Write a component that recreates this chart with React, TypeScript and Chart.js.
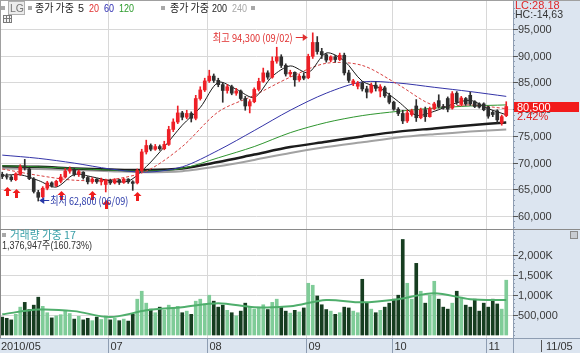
import React, { useEffect, useRef } from "react";
import { Chart, registerables } from "chart.js";

Chart.register(...registerables);

// ---------------- data ----------------
const DATES = [
  "05/27", "05/28", "05/31",
  "06/01", "06/03", "06/04", "06/07", "06/08", "06/09", "06/10", "06/11", "06/14", "06/15", "06/16", "06/17", "06/18", "06/21", "06/22", "06/23", "06/24", "06/25", "06/28", "06/29", "06/30",
  "07/01", "07/02", "07/05", "07/06", "07/07", "07/08", "07/09", "07/12", "07/13", "07/14", "07/15", "07/16", "07/19", "07/20", "07/21", "07/22", "07/23", "07/26", "07/27", "07/28", "07/29", "07/30",
  "08/02", "08/03", "08/04", "08/05", "08/06", "08/09", "08/10", "08/11", "08/12", "08/13", "08/16", "08/17", "08/18", "08/19", "08/20", "08/23", "08/24", "08/25", "08/26", "08/27", "08/30", "08/31",
  "09/01", "09/02", "09/03", "09/06", "09/07", "09/08", "09/09", "09/10", "09/13", "09/14", "09/15", "09/16", "09/17", "09/20", "09/24", "09/27", "09/28", "09/29", "09/30",
  "10/01", "10/04", "10/05", "10/06", "10/07", "10/08", "10/11", "10/12", "10/13", "10/14", "10/15", "10/18", "10/19", "10/20", "10/21", "10/22", "10/25", "10/26", "10/27", "10/28", "10/29",
  "11/01", "11/02", "11/03", "11/04", "11/05",
];

const OPEN = [
  67800, 67400, 67300,
  66800, 67800, 69200, 68800, 66900, 64400, 63600, 65200, 66200, 65700, 66500, 67300, 68400, 68700, 67800, 68200, 67200, 66400, 66900, 66400, 65900,
  66700, 66200, 66800, 66300, 66900, 66400, 66200, 68500, 72000, 73200, 72500, 73000, 72600, 73400, 76200, 77600, 79300, 78500, 79200, 78300, 82000, 83600,
  85300, 86200, 85400, 84600, 83500, 84200, 83000, 83400, 82000, 80600, 81400, 83700, 85200, 86800, 86000, 89000, 89800, 88200, 86600, 86900, 85500, 86200,
  85900, 89900, 92500, 90800, 90200, 89200, 89800, 89300, 90100, 86800, 84800, 84300, 84900, 83800, 83200, 84500, 83400, 84000, 82500,
  81300, 80000, 79200, 77800, 79000, 80600, 78400, 79900, 78600, 80100, 81600, 80500, 82000, 80200, 83000, 80900, 82000, 82600, 81400, 81000, 81000,
  80400, 79400, 79700, 77400, 78800,
];
const HIGH = [
  68200, 67900, 67600,
  68100, 69600, 70600, 69000, 67200, 64800, 65500, 66500, 66400, 66700, 67800, 68900, 69200, 68900, 68600, 68300, 67400, 67200, 67000, 67100, 66900,
  66900, 67000, 66900, 67100, 67000, 66600, 68800, 72500, 74200, 73500, 73400, 73300, 74000, 76800, 78200, 80600, 79600, 79800, 79500, 82600, 84200, 85800,
  87300, 86600, 85800, 85000, 84600, 84500, 83900, 83600, 82400, 81800, 84000, 85800, 87700, 87200, 89800, 91600, 90200, 88500, 87300, 87000, 86600, 86800,
  90300, 94300, 93600, 91400, 90400, 90000, 90100, 90500, 90500, 87300, 85600, 85200, 85100, 84300, 84900, 85100, 84600, 84300, 83000,
  81500, 80300, 79800, 79800, 80000, 81800, 80200, 80400, 80400, 81300, 82700, 80900, 82300, 83300, 83300, 82400, 82200, 83200, 81600, 81200, 81200,
  80600, 79800, 79900, 78900, 81400,
];
const LOW = [
  67000, 66900, 66500,
  66600, 67600, 68600, 66800, 64300, 62800, 63400, 64900, 65400, 65500, 66200, 67100, 68000, 67500, 67400, 66900, 66000, 66100, 66100, 65800, 64500,
  65900, 66000, 65900, 66100, 66100, 64800, 66000, 68300, 71600, 72200, 72300, 72300, 72400, 73200, 75800, 77300, 78000, 78200, 77600, 78000, 81700, 83300,
  85000, 85000, 84200, 81300, 83000, 82700, 82600, 81700, 79800, 79300, 81200, 83400, 85000, 85600, 85800, 88600, 87800, 86200, 86100, 84300, 85200, 85500,
  85700, 89500, 90300, 89500, 88800, 88900, 88800, 89100, 86400, 85000, 84400, 83800, 83400, 82100, 83000, 83400, 82300, 82200, 81000,
  79800, 78800, 77300, 77500, 78700, 77700, 78200, 77700, 78500, 79900, 80200, 80000, 79500, 80000, 80900, 80600, 80700, 80700, 80300, 80200, 79700,
  78300, 78600, 77400, 77000, 78600,
];
const CLOSE = [
  67400, 67300, 66800,
  67900, 69200, 69000, 67000, 64600, 63500, 65200, 66200, 65700, 66500, 67300, 68400, 68800, 67800, 68300, 67200, 66400, 66900, 66400, 66800, 66700,
  66200, 66800, 66300, 66900, 66400, 66100, 68500, 72000, 73200, 72500, 73000, 72600, 73400, 76200, 77600, 79300, 78500, 79200, 78300, 82000, 83600, 85300,
  86200, 85400, 84600, 83500, 84200, 83000, 83400, 82000, 80600, 81400, 83700, 85200, 86800, 86000, 89000, 89800, 88200, 86600, 86900, 85500, 86200, 85800,
  89900, 92500, 90800, 90200, 89200, 89800, 89300, 90100, 86800, 85400, 85300, 84900, 83800, 83200, 84500, 83900, 84200, 82500, 81300,
  80000, 79200, 77800, 79300, 79700, 78400, 79900, 78600, 80100, 81000, 80500, 80200, 80000, 82900, 81300, 82100, 81000, 81000, 80500, 80400, 79900,
  78700, 79000, 78000, 78600, 80500,
];
const VOLUME = [
  450000, 420000, 380000,
  520000, 700000, 820000, 640000, 750000, 950000, 720000, 560000, 430000, 480000, 510000, 620000, 540000, 400000, 470000, 380000, 420000, 360000, 450000, 390000, 480000,
  380000, 420000, 360000, 400000, 350000, 520000, 900000, 1100000, 800000, 650000, 560000, 700000, 620000, 750000, 680000, 720000, 560000, 600000, 520000, 850000, 900000, 780000,
  1000000, 850000, 700000, 750000, 620000, 560000, 480000, 600000, 800000, 720000, 650000, 700000, 760000, 640000, 820000, 900000, 700000, 600000, 550000, 620000, 580000, 680000,
  1300000, 1250000, 980000, 760000, 640000, 600000, 520000, 560000, 700000, 680000, 600000, 560000, 1400000, 800000, 650000, 560000, 620000, 700000, 800000,
  900000, 1000000, 2400000, 1300000, 900000, 1800000, 1100000, 800000, 1000000, 1350000, 900000, 700000, 650000, 800000, 1100000, 950000, 750000, 700000, 900000, 600000, 800000,
  700000, 900000, 780000, 650000, 1376947,
];

const MA5_IDX = [0, 4, 8, 12, 16, 20, 24, 28, 32, 36, 40, 44, 48, 52, 56, 60, 64, 68, 72, 76, 80, 84, 88, 92, 96, 100, 104, 108, 112];
const MA5 = [67600, 67720, 66660, 65420, 67760, 67320, 66600, 66520, 69240, 72940, 77000, 80320, 85020, 83740, 82220, 86140, 88100, 86860, 90520, 89040, 85240, 83920, 81440, 78880, 79600, 80920, 81660, 80100, 78960];
const MA_IDX = [0, 8, 16, 24, 32, 40, 48, 56, 64, 72, 80, 88, 96, 104, 112];
const MA20 = [68800, 67600, 66700, 66800, 68400, 73000, 79500, 82600, 86000, 88600, 88200, 84600, 80700, 80800, 80100];
const MA60 = [71400, 70800, 69900, 68800, 68200, 69200, 72300, 76000, 79800, 83000, 85100, 84900, 84100, 83300, 82400];
const MA120 = [69400, 69200, 68900, 68600, 68400, 68900, 70900, 73000, 75600, 77500, 78800, 79600, 80200, 80600, 80800];
const MA200 = [69300, 69200, 68900, 68700, 68600, 68900, 70100, 71500, 72900, 73900, 74900, 75800, 76400, 77000, 77500];
const MA240 = [68900, 68800, 68600, 68400, 68200, 68400, 69300, 70500, 71800, 72900, 73800, 74700, 75300, 75800, 76200];
const VOL_MA = [520000, 640000, 600000, 450000, 620000, 700000, 800000, 700000, 720000, 880000, 820000, 900000, 1050000, 900000, 880000];

const PRICE_TICKS = [60000, 65000, 70000, 75000, 80000, 85000, 90000, 95000];
const PRICE_TICK_LABELS = ["60,000", "65,000", "70,000", "75,000", "80,000", "85,000", "90,000", "95,000"];
const VOL_TICKS = [500000, 1000000, 1500000, 2000000];
const VOL_TICK_LABELS = ["500,000", "1,000K", "1,500K", "2,000K"];
const MONTH_START = [0, 24, 46, 68, 87, 108];
const MONTH_LABELS = ["2010/05", "07", "08", "09", "10", "11"];
const SIGNAL_IDX = [1, 3, 13, 20, 23, 30];
const HIGH_IDX = 69;
const LOW_IDX = 8;
const HIGH_TEXT = "최고 94,300 (09/02)";
const LOW_TEXT = "최저 62,800 (06/09)";
const LAST_TEXT = "80,500";
const CHANGE_TEXT = "2.42%";
const VOL_TEXT = "1,376,947주(160.73%)";
const LAST_DATE = "11/05";

// ---------------- styling ----------------
const N_SLOTS = DATES.length + 1;
const SLOT_LABELS = [...DATES, ""];
const RIGHT_W = 67;
const PANEL_BG = "#dce5f0";
const PANEL_EDGE = "#8e9db2";
const GRID = "#d8d8d8";
const UP = "#ee2027";
const DOWN = "#2e2e2e";
const NUM_FONT = '11px "Liberation Sans", "Noto Sans CJK KR", sans-serif';
const KR_FONT = '11px "Noto Sans CJK KR", "Liberation Sans", sans-serif';

function sparse(idx: number[], vals: number[]) {
  const a: (number | null)[] = new Array(DATES.length).fill(null);
  idx.forEach((k, j) => (a[k] = vals[j]));
  return a;
}

function hline(ctx: CanvasRenderingContext2D, x1: number, x2: number, y: number) {
  ctx.beginPath();
  ctx.moveTo(x1, y);
  ctx.lineTo(x2, y);
  ctx.stroke();
}
function vline(ctx: CanvasRenderingContext2D, x: number, y1: number, y2: number) {
  ctx.beginPath();
  ctx.moveTo(x, y1);
  ctx.lineTo(x, y2);
  ctx.stroke();
}
function square(ctx: CanvasRenderingContext2D, x: number, y: number) {
  ctx.fillStyle = "#a8a8a8";
  ctx.fillRect(x, y, 4, 4);
}
function boundaryX(chart: any, i: number) {
  const a = chart.chartArea;
  const w = (a.right - a.left) / N_SLOTS;
  return chart.scales.x.getPixelForValue(i) - w / 2;
}

const lineDs = (data: (number | null)[], color: string, width: number, dash: number[] = []) => ({
  type: "line" as const,
  data,
  borderColor: color,
  borderWidth: width,
  borderDash: dash,
  pointRadius: 0,
  spanGaps: true,
  tension: 0.3,
  fill: false,
});

const pricePlugin = {
  id: "pricePanel",
  beforeDraw(chart: any) {
    const { ctx, chartArea: a, scales } = chart;
    const W = chart.width;
    const H = chart.height;
    ctx.save();
    ctx.fillStyle = "#ffffff";
    ctx.fillRect(0, 0, W, H);
    ctx.fillStyle = PANEL_BG;
    ctx.fillRect(a.right, 0, W - a.right, H);
    ctx.strokeStyle = GRID;
    ctx.lineWidth = 1;
    PRICE_TICKS.forEach((v) => {
      const y = Math.round(scales.y.getPixelForValue(v)) + 0.5;
      hline(ctx, 0, a.right, y);
    });
    MONTH_START.slice(1).forEach((i) => {
      const x = Math.round(boundaryX(chart, i)) + 0.5;
      vline(ctx, x, 0, H);
    });
    ctx.restore();
  },
  afterDatasetsDraw(chart: any) {
    const { ctx, scales } = chart;
    const x = scales.x;
    const y = scales.y;
    ctx.save();
    // signal arrows
    ctx.fillStyle = "#f01c1c";
    SIGNAL_IDX.forEach((i) => {
      const cx = Math.round(x.getPixelForValue(i));
      const top = Math.round(y.getPixelForValue(LOW[i])) + 8;
      ctx.beginPath();
      ctx.moveTo(cx + 0.5, top);
      ctx.lineTo(cx + 4.5, top + 4);
      ctx.lineTo(cx + 2, top + 4);
      ctx.lineTo(cx + 2, top + 9);
      ctx.lineTo(cx - 1, top + 9);
      ctx.lineTo(cx - 1, top + 4);
      ctx.lineTo(cx - 3.5, top + 4);
      ctx.closePath();
      ctx.fill();
    });
    // high annotation
    const hx = x.getPixelForValue(HIGH_IDX) - 6;
    const hy = Math.round(y.getPixelForValue(HIGH[HIGH_IDX])) + 4.5;
    ctx.strokeStyle = "#e03030";
    ctx.fillStyle = "#e03030";
    ctx.lineWidth = 1;
    hline(ctx, hx - 11, hx, hy);
    ctx.beginPath();
    ctx.moveTo(hx + 1, hy);
    ctx.lineTo(hx - 4, hy - 3.5);
    ctx.lineTo(hx - 4, hy + 3.5);
    ctx.closePath();
    ctx.fill();
    ctx.font = KR_FONT;
    ctx.textBaseline = "middle";
    ctx.textAlign = "right";
    ctx.fillText(HIGH_TEXT, hx - 14, hy, 80);
    // low annotation
    const lx = x.getPixelForValue(LOW_IDX) + 2;
    const ly = Math.round(y.getPixelForValue(LOW[LOW_IDX])) - 0.5;
    ctx.strokeStyle = "#2838a8";
    ctx.fillStyle = "#2838a8";
    hline(ctx, lx, lx + 9, ly);
    ctx.beginPath();
    ctx.moveTo(lx - 1, ly);
    ctx.lineTo(lx + 4, ly - 3.5);
    ctx.lineTo(lx + 4, ly + 3.5);
    ctx.closePath();
    ctx.fill();
    ctx.textAlign = "left";
    ctx.fillText(LOW_TEXT, lx + 10, ly, 78);
    ctx.restore();
  },
  afterDraw(chart: any) {
    const { ctx, chartArea: a, scales } = chart;
    const H = chart.height;
    const R = a.right;
    ctx.save();
    // axis panel edge + ticks
    ctx.strokeStyle = PANEL_EDGE;
    ctx.lineWidth = 1;
    vline(ctx, R + 0.5, 0, H);
    for (let v = 58000; v <= 99000; v += 1000) {
      const yy = Math.round(scales.y.getPixelForValue(v)) + 0.5;
      hline(ctx, R, R + 2, yy);
    }
    ctx.font = NUM_FONT;
    ctx.textBaseline = "middle";
    ctx.textAlign = "left";
    PRICE_TICKS.forEach((v, k) => {
      const yy = Math.round(scales.y.getPixelForValue(v)) + 0.5;
      ctx.strokeStyle = "#555";
      hline(ctx, R, R + 5, yy);
      ctx.fillStyle = "#3a3a3a";
      ctx.fillText(PRICE_TICK_LABELS[k], R + 5, yy, 40);
    });
    // last price tag
    const ty = Math.round(scales.y.getPixelForValue(CLOSE[CLOSE.length - 1]));
    ctx.fillStyle = "#f21b1b";
    ctx.fillRect(R + 1, ty - 5, 65, 10);
    ctx.fillStyle = "#ffffff";
    ctx.fillText(LAST_TEXT, R + 4, ty + 0.5, 40);
    ctx.fillStyle = "#e02020";
    ctx.fillText(CHANGE_TEXT, R + 4, ty + 10, 40);
    // LC / HC
    ctx.fillStyle = "#e02828";
    ctx.fillText("LC:28.18", R + 2, 6, 46);
    ctx.fillStyle = "#333";
    ctx.fillText("HC:-14,63", R + 2, 15, 48);
    // top / left borders
    ctx.strokeStyle = "#a0a0a0";
    hline(ctx, 0, chart.width, 0.5);
    vline(ctx, 0.5, 0, H);
    // header
    square(ctx, 1, 6);
    ctx.fillStyle = "#ececec";
    ctx.fillRect(8, 1, 17, 14);
    ctx.strokeStyle = "#b0b0b0";
    ctx.strokeRect(8.5, 1.5, 16, 13);
    ctx.fillStyle = "#777";
    ctx.fillText("LG", 10, 8.5, 14);
    square(ctx, 28, 6);
    ctx.font = KR_FONT;
    ctx.fillStyle = "#222";
    ctx.fillText("종가 가중", 35, 8, 39);
    ctx.font = NUM_FONT;
    ctx.fillText("5", 78, 8.5, 6);
    ctx.fillStyle = "#e03030";
    ctx.fillText("20", 89, 8.5, 10);
    ctx.fillStyle = "#2828b0";
    ctx.fillText("60", 104, 8.5, 10);
    ctx.fillStyle = "#2a9a2a";
    ctx.fillText("120", 119, 8.5, 15);
    square(ctx, 161, 6);
    ctx.font = KR_FONT;
    ctx.fillStyle = "#222";
    ctx.fillText("종가 가중", 170, 8, 39);
    ctx.font = NUM_FONT;
    ctx.fillText("200", 212, 8.5, 15);
    ctx.fillStyle = "#a8a8a8";
    ctx.fillText("240", 232, 8.5, 15);
    square(ctx, 251, 6);
    // grid icon
    ctx.strokeStyle = "#7a7a7a";
    ctx.fillStyle = "#f4f4f4";
    ctx.fillRect(3, 15, 9, 8);
    ctx.strokeRect(3.5, 15.5, 8, 7);
    ctx.beginPath();
    ctx.moveTo(3.5, 18.5); ctx.lineTo(11.5, 18.5);
    ctx.moveTo(6.5, 15.5); ctx.lineTo(6.5, 22.5);
    ctx.moveTo(9.5, 15.5); ctx.lineTo(9.5, 22.5);
    ctx.stroke();
    ctx.restore();
  },
};

const volPlugin = {
  id: "volPanel",
  beforeDraw(chart: any) {
    const { ctx, chartArea: a, scales } = chart;
    const W = chart.width;
    const H = chart.height;
    ctx.save();
    ctx.fillStyle = "#ffffff";
    ctx.fillRect(0, 0, W, H);
    ctx.fillStyle = PANEL_BG;
    ctx.fillRect(a.right, 0, W - a.right, H);
    ctx.fillRect(0, a.bottom, W, H - a.bottom);
    ctx.strokeStyle = GRID;
    ctx.lineWidth = 1;
    VOL_TICKS.forEach((v) => {
      const y = Math.round(scales.y.getPixelForValue(v)) + 0.5;
      hline(ctx, 0, a.right, y);
    });
    MONTH_START.slice(1).forEach((i) => {
      const x = Math.round(boundaryX(chart, i)) + 0.5;
      vline(ctx, x, 0, a.bottom);
    });
    ctx.restore();
  },
  afterDraw(chart: any) {
    const { ctx, chartArea: a, scales } = chart;
    const W = chart.width;
    const H = chart.height;
    const R = a.right;
    ctx.save();
    ctx.lineWidth = 1;
    ctx.strokeStyle = PANEL_EDGE;
    vline(ctx, R + 0.5, 0, H);
    hline(ctx, 0, W, a.bottom + 0.5);
    for (let v = 0; v <= 2600000; v += 100000) {
      const yy = Math.round(scales.y.getPixelForValue(v)) + 0.5;
      hline(ctx, R, R + 2, yy);
    }
    ctx.font = NUM_FONT;
    ctx.textBaseline = "middle";
    ctx.textAlign = "left";
    VOL_TICKS.forEach((v, k) => {
      const yy = Math.round(scales.y.getPixelForValue(v)) + 0.5;
      ctx.strokeStyle = "#555";
      hline(ctx, R, R + 5, yy);
      ctx.fillStyle = "#3a3a3a";
      ctx.fillText(VOL_TICK_LABELS[k], R + 5, yy, 44);
    });
    // date row
    const dy = a.bottom + 8.5;
    MONTH_START.forEach((i, k) => {
      const bx = Math.round(boundaryX(chart, i)) + 0.5;
      ctx.strokeStyle = PANEL_EDGE;
      if (i > 0) vline(ctx, bx, a.bottom, H);
      ctx.fillStyle = "#333";
      ctx.fillText(MONTH_LABELS[k], i === 0 ? 1 : bx + 2, dy, 40);
    });
    ctx.strokeStyle = "#555";
    vline(ctx, R + 28.5, a.bottom + 2, H - 1);
    ctx.fillStyle = "#333";
    ctx.fillText(LAST_DATE, R + 33, dy, 30);
    // separator / borders
    ctx.strokeStyle = "#8a8a8a";
    hline(ctx, 0, W, 0.5);
    vline(ctx, 0.5, 0, a.bottom);
    // header
    square(ctx, 2, 4);
    ctx.font = KR_FONT;
    ctx.fillStyle = "#3a9fa8";
    ctx.fillText("거래량 가중 17", 10, 6, 66);
    ctx.font = NUM_FONT;
    ctx.fillStyle = "#333";
    ctx.fillText(VOL_TEXT, 2, 17, 90);
    // small close box
    ctx.fillStyle = "#c8ccd2";
    ctx.fillRect(W - 9, 3, 6, 6);
    ctx.strokeStyle = "#8a8a8a";
    ctx.strokeRect(W - 9.5, 2.5, 7, 7);
    ctx.restore();
  },
};

function makePriceChart(canvas: HTMLCanvasElement) {
  const up = CLOSE.map((c, i) => c >= OPEN[i]);
  const colors = up.map((u) => (u ? UP : DOWN));
  const bodies = OPEN.map((o, i) => [Math.min(o, CLOSE[i]), Math.max(o, CLOSE[i])]);
  const wicks = LOW.map((l, i) => [l, HIGH[i]]);
  return new Chart(canvas, {
    type: "bar",
    data: {
      labels: SLOT_LABELS,
      datasets: [
        { type: "bar", data: bodies as any, backgroundColor: colors, borderWidth: 0, barThickness: 3, grouped: false } as any,
        { type: "bar", data: wicks as any, backgroundColor: colors, borderWidth: 0, barThickness: 1, grouped: false } as any,
        lineDs(sparse(MA5_IDX, MA5), "#1a1a1a", 1),
        lineDs(sparse(MA_IDX, MA20), "#d84040", 1, [3, 2]),
        lineDs(sparse(MA_IDX, MA60), "#3434a8", 1),
        lineDs(sparse(MA_IDX, MA120), "#2f962f", 1),
        lineDs(sparse(MA_IDX, MA200), "#1c1c1c", 2.5),
        lineDs(sparse(MA_IDX, MA240), "#a2a2a2", 2),
      ],
    },
    options: {
      animation: false,
      responsive: false,
      devicePixelRatio: 1,
      events: [],
      layout: { padding: { left: 0, right: RIGHT_W, top: 4, bottom: 1 } },
      plugins: { legend: { display: false }, tooltip: { enabled: false } },
      scales: {
        x: { type: "category", display: false, offset: true },
        y: { type: "linear", display: false, min: 57750, max: 99700 },
      },
    },
    plugins: [pricePlugin],
  } as any);
}

function makeVolumeChart(canvas: HTMLCanvasElement) {
  const colors = CLOSE.map((c, i) => (c >= OPEN[i] ? "#7fcc98" : "#163d20"));
  return new Chart(canvas, {
    type: "bar",
    data: {
      labels: SLOT_LABELS,
      datasets: [
        lineDs(sparse(MA_IDX, VOL_MA), "#4fae6c", 2),
        { type: "bar", data: VOLUME, backgroundColor: colors, borderWidth: 0, barThickness: 3, grouped: false } as any,
      ],
    },
    options: {
      animation: false,
      responsive: false,
      devicePixelRatio: 1,
      events: [],
      layout: { padding: { left: 0, right: RIGHT_W, top: 1, bottom: 15 } },
      plugins: { legend: { display: false }, tooltip: { enabled: false } },
      scales: {
        x: { type: "category", display: false, offset: true },
        y: { type: "linear", display: false, min: -75000, max: 2638000 },
      },
    },
    plugins: [volPlugin],
  } as any);
}

export default function App() {
  const priceRef = useRef<HTMLCanvasElement>(null);
  const volRef = useRef<HTMLCanvasElement>(null);
  useEffect(() => {
    document.body.style.margin = "0";
    const c1 = makePriceChart(priceRef.current as HTMLCanvasElement);
    const c2 = makeVolumeChart(volRef.current as HTMLCanvasElement);
    return () => {
      c1.destroy();
      c2.destroy();
    };
  }, []);
  return (
    <div style={{ width: 580, height: 353, background: "#fff" }}>
      <canvas ref={priceRef} width={580} height={229} style={{ display: "block", width: 580, height: 229 }} />
      <canvas ref={volRef} width={580} height={124} style={{ display: "block", width: 580, height: 124 }} />
    </div>
  );
}
